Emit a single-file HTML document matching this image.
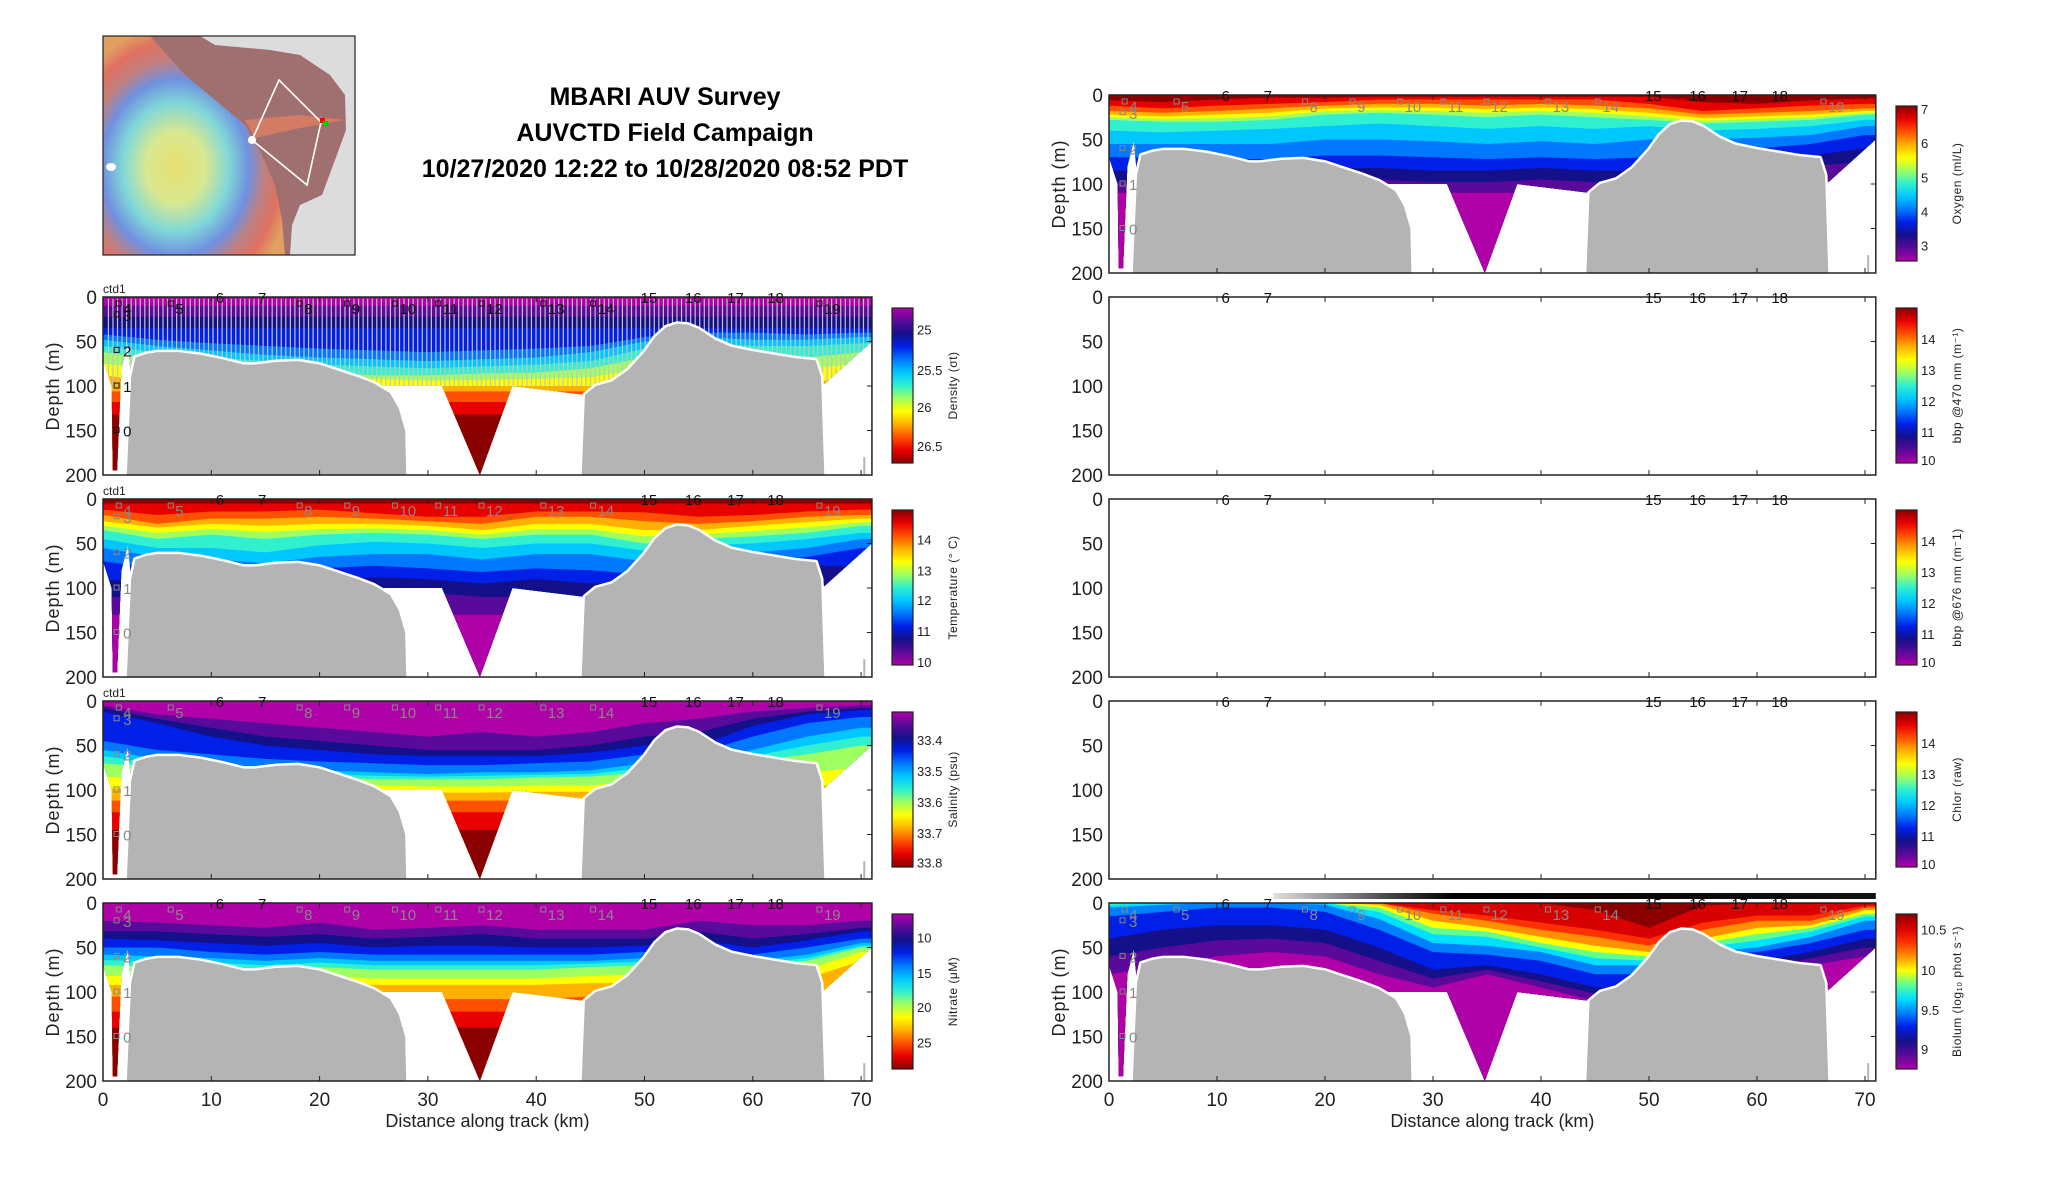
<!DOCTYPE html>
<html><head><meta charset="utf-8"><style>
html,body{margin:0;padding:0;background:#fff}
svg{display:block;font-family:"Liberation Sans","DejaVu Sans",sans-serif}
</style></head><body>
<svg id="fig" width="2052" height="1188" viewBox="0 0 2052 1188" xmlns="http://www.w3.org/2000/svg">
<defs>
<radialGradient id="mapg" cx="0.4" cy="0.6" r="0.65">
<stop offset="0" stop-color="#e8e070"/><stop offset="0.25" stop-color="#d8e890"/><stop offset="0.45" stop-color="#80d8d8"/><stop offset="0.62" stop-color="#7090e0"/><stop offset="0.75" stop-color="#c08080"/><stop offset="0.88" stop-color="#e07060"/><stop offset="1" stop-color="#e0a060"/>
</radialGradient>
<linearGradient id="barg" x1="0" x2="1"><stop offset="0" stop-color="#e0e0e0"/><stop offset="0.2" stop-color="#404040"/><stop offset="0.3" stop-color="#000"/><stop offset="1" stop-color="#111"/></linearGradient>
</defs>
<g>
<rect x="103" y="36" width="252" height="219" fill="#dcdcdc"/>
<path d="M150,36 L200,36 L215,45 L270,50 L300,55 L330,75 L345,95 L346,130 L335,160 L322,195 L300,205 L292,225 L290,255 L240,255 L200,200 L103,160 Z" fill="#a07070"/>
<path d="M103,36 L150,36 L185,75 L215,100 L245,125 L262,155 L275,185 L282,220 L285,255 L103,255 Z" fill="url(#mapg)"/>
<path d="M245,120 L300,115 L345,120 L300,128 L255,138 Z" fill="#e08060" opacity="0.8"/>
<polyline points="252,140 279,80 321,122 307,185 252,140" fill="none" stroke="#fff" stroke-width="1.6"/>
<circle cx="252" cy="140" r="4" fill="#fff"/><ellipse cx="111" cy="167" rx="5" ry="4" fill="#fff"/>
<rect x="320" y="118" width="5" height="5" fill="#f00"/><rect x="323" y="121" width="5" height="5" fill="#0c0"/>
<rect x="103" y="36" width="252" height="219" fill="none" stroke="#222" stroke-width="1.2"/>
</g>
<g font-weight="bold" font-size="25" text-anchor="middle" fill="#000">
<text x="665" y="105">MBARI AUV Survey</text>
<text x="665" y="141">AUVCTD Field Campaign</text>
<text x="665" y="177">10/27/2020 12:22 to 10/28/2020 08:52 PDT</text>
</g>
<g id="panels"></g>
</svg>
<script>
// ---- data ----
const kmSamples=[0,5,10,15,20,25,30,35,40,45,50,55,60,65,70];
const bathy1=[[2.2,200],[2.6,90],[3,68],[4,64],[5,62],[7,62],[9,65],[11,70],[13,76],[14,76],[16,73],[18,72],[20,76],[22,84],[23.5,90],[25,97],[26.5,108],[27.3,125],[27.9,150],[28,200]];
const bathy2=[[44.2,200],[44.5,110],[45.5,100],[47,95],[48.5,82],[50,62],[51,45],[52,34],[53,30],[54,31],[55,36],[56.5,48],[58,56],[60,61],[62,65],[64,69],[65.8,71],[66.3,90],[66.6,200]];
const stationKmA=[10.8,14.7,50.4,54.5,58.4,62.1];
const stationLabA=['6','7','15','16','17','18'];
const stationKmB=[1.5,6.3,18.2,22.6,27,31,35,40.7,45.3,66.2];
const stationLabB=['4','5','8','9','10','11','12','13','14','19'];
const colStationDepth=[20,60,100,150];
const colStationLab=['3','2','1','0'];
const xTicks=[0,10,20,30,40,50,60,70];
const yTicks=[0,50,100,150,200];
const JET=['#b000a8','#5a0a9a','#14108a','#0020e8','#0078ff','#00c8ff','#30f0d0','#a0ff60','#ffff00','#ffb000','#ff5000','#e80000','#8a0000'];
const densIso=[10,22,35,[42,48,52,55,58,60,62,60,58,55,45,40,40,42,40],[48,55,60,65,68,70,72,70,68,62,50,45,48,48,45],[55,62,68,72,76,78,80,78,76,72,58,52,55,55,52],[62,70,76,80,85,88,88,86,85,80,68,60,65,68,62],[75,82,88,90,92,92,94,93,92,90,80,75,78,80,75],[88,95,98,100,100,100,100,100,100,100,95,92,95,95,92],106,118,132];
const tempIso=[5,[12,18,14,14,12,16,20,20,14,14,15,20,18,14,12],[18,28,22,22,20,22,25,28,20,20,25,28,25,20,18],[25,32,28,30,28,28,30,35,28,28,35,35,30,26,22],[30,38,34,37,34,33,35,40,34,34,42,40,36,32,26],[35,45,40,45,40,38,40,45,40,40,50,45,42,38,30],[45,55,55,60,52,48,50,55,50,50,58,52,50,45,38],[55,65,68,72,65,62,62,68,62,62,70,60,60,55,45],[70,78,80,82,78,75,78,82,78,80,85,70,70,65,55],[90,95,95,95,90,88,90,95,90,95,95,85,80,75,75],[110,110,110,110,105,105,105,110,110,110,110,105,105,100,100],130];
const salIso=[[5,15,20,25,30,35,40,35,40,35,25,20,12,8,5],[8,20,30,40,45,50,55,55,55,50,40,35,20,12,8],[12,25,40,50,55,60,62,62,62,58,50,50,28,15,10],[45,55,60,65,68,70,72,72,70,68,60,58,40,25,18],[55,65,70,75,78,80,82,80,80,78,70,65,55,40,30],[62,70,75,78,82,84,85,84,83,82,75,68,62,50,40],[70,75,80,82,85,88,88,88,86,85,80,72,68,60,50],[85,88,92,95,95,95,96,96,95,95,90,85,85,80,75],[98,100,102,102,102,102,103,103,102,102,100,98,98,95,95],112,125,145];
const nitIso=[[20,22,25,28,22,30,28,25,30,30,30,20,25,25,20],[32,32,35,38,35,40,38,35,40,40,40,32,40,35,28],[40,42,45,48,45,50,48,48,50,50,48,42,50,42,32],[50,50,55,58,55,58,58,58,58,58,55,50,58,50,40],[58,60,62,65,62,65,65,65,65,65,62,58,65,58,45],[64,66,67,70,67,70,70,70,70,68,66,63,68,62,48],[70,72,72,75,72,75,75,75,75,72,70,68,72,65,50],[82,82,85,85,82,85,85,85,85,82,80,78,80,75,55],[92,92,95,95,92,92,92,92,92,90,90,88,88,85,65],[105,105,105,105,105,105,108,108,108,105,105,105,105,105,105],122,140];
const oxyIso=[[6,8,5,3,3,2,2,2,2,2,2,8,10,6,4],[12,15,12,10,8,5,5,5,5,5,10,18,15,12,10],[18,20,18,15,12,10,10,12,10,12,15,22,20,18,15],[22,24,22,20,15,14,14,16,14,16,20,26,24,22,18],[25,27,26,24,18,17,18,20,18,20,24,29,27,25,20],[28,30,30,28,22,20,22,25,22,25,28,32,30,28,22],[40,42,40,38,35,32,35,38,35,38,35,40,38,35,28],[55,55,55,55,50,50,52,55,52,55,50,50,48,45,35],[70,70,72,72,68,68,70,72,70,72,70,62,60,55,45],[85,85,85,85,82,82,85,85,82,85,85,75,72,68,60],[98,98,98,98,95,95,98,98,95,98,98,90,85,80,75],110];
const bioIso=[[0,0,0,0,0,0,0,0,0,8,28,3,0,0,0],[0,0,0,0,0,0,8,14,22,30,40,22,14,14,3],[0,0,0,0,0,0,12,20,30,38,48,30,20,20,5],[0,0,0,0,0,2,20,28,38,48,55,40,28,25,8],[0,0,0,0,0,5,28,32,45,55,60,45,35,28,12],[2,0,0,0,0,10,35,38,50,62,65,50,42,32,15],[5,2,0,0,2,18,45,48,55,70,70,55,50,38,20],[15,10,5,5,10,30,55,58,65,80,80,60,55,45,30],[40,30,25,25,30,50,75,70,80,95,95,70,65,55,40],[60,50,42,40,45,65,85,75,88,102,102,80,75,62,50],[80,70,60,55,60,80,95,80,95,110,110,90,85,70,60]];
const REV=JET.slice().reverse();
const panels=[
 {side:'L',row:0,iso:densIso,cols:JET,label:'Density (σt)',ticks:['25','25.5','26','26.5'],tpos:[0.14,0.40,0.64,0.89],ctd:true,dark:true,yo:true},
 {side:'L',row:1,iso:tempIso,cols:REV,label:'Temperature (° C)',ticks:['14','13','12','11','10'],tpos:[0.19,0.39,0.58,0.78,0.98],ctd:true},
 {side:'L',row:2,iso:salIso,cols:JET,label:'Salinity (psu)',ticks:['33.4','33.5','33.6','33.7','33.8'],tpos:[0.18,0.38,0.58,0.78,0.97],ctd:true},
 {side:'L',row:3,iso:nitIso,cols:JET,label:'Nitrate (μM)',ticks:['10','15','20','25'],tpos:[0.15,0.38,0.60,0.83],xlab:true},
 {side:'R',row:-1,iso:oxyIso,cols:REV,label:'Oxygen (ml/L)',ticks:['7','6','5','4','3'],tpos:[0.02,0.24,0.46,0.68,0.90]},
 {side:'R',row:0,iso:null,cols:REV,label:'bbp @470 nm (m⁻¹)',ticks:['14','13','12','11','10'],tpos:[0.2,0.4,0.6,0.8,0.98],noYlab:true},
 {side:'R',row:1,iso:null,cols:REV,label:'bbp @676 nm (m⁻1)',ticks:['14','13','12','11','10'],tpos:[0.2,0.4,0.6,0.8,0.98],noYlab:true},
 {side:'R',row:2,iso:null,cols:REV,label:'Chlor (raw)',ticks:['14','13','12','11','10'],tpos:[0.2,0.4,0.6,0.8,0.98],noYlab:true},
 {side:'R',row:3,iso:bioIso,cols:['#8a0000','#d80000','#ff3000','#ff9000','#ffff00','#60ff90','#00e0ff','#0080ff','#0020e8','#14108a','#5a0a9a','#b000a8'],label:'Biolum (log₁₀ phot s⁻¹)',ticks:['10.5','10','9.5','9'],tpos:[0.1,0.36,0.62,0.87],xlab:true,bar:true}
];
// ---- drawing ----
const NS='http://www.w3.org/2000/svg';
const root=document.getElementById('panels');
function mk(tag,attrs,parent){const e=document.createElementNS(NS,tag);for(const k in attrs)e.setAttribute(k,attrs[k]);(parent||root).appendChild(e);return e;}
function isoVal(v,i){return Array.isArray(v)?v[i]:v;}
let clipN=0;
panels.forEach((p,pi)=>{
 const X0=p.side==='L'?103:1109, KPX=p.side==='L'?10.83:10.8;
 const Y0=297+p.row*202, H=178, DPX=H/200, W=71*KPX;
 const xs=k=>X0+k*KPX, ys=d=>Y0+d*DPX;
 const g=mk('g',{});
 
 
 if(p.iso){
  const id='clip'+(clipN++);
  const cp=mk('clipPath',{id:id},g);
  const poly=[[0,0],[71,0],[71,50],[66.6,98]].concat(bathy2.slice(1,-1).reverse(),[[37.8,100],[34.8,200],[31.3,100],[25.3,100]],bathy1.slice(1,16).reverse(),[[2.3,52],[1.7,80],[1.3,195],[0.9,195],[0.8,100],[0,70]]);
  mk('polygon',{points:poly.map(q=>xs(q[0])+','+ys(q[1])).join(' ')},cp);
  const dg=mk('g',{'clip-path':'url(#'+id+')'},g);
  
  
  mk('rect',{x:X0,y:Y0,width:W,height:H,fill:p.cols[0]},dg);
  p.iso.forEach((lev,li)=>{
   const pts=kmSamples.map((k,i)=>xs(k)+','+ys(isoVal(lev,i)));
   pts.push(xs(71)+','+ys(isoVal(lev,kmSamples.length-1)));
   pts.push(xs(71)+','+ys(200));pts.push(xs(0)+','+ys(200));
   const b=mk('polygon',{points:pts.join(' '),fill:p.cols[li+1]},dg);
   
   
  });
  if(p.yo){for(let k=0.5;k<71;k+=0.42){mk('line',{x1:xs(k),x2:xs(k),y1:ys(2),y2:ys(100),stroke:'#c4c4c4','stroke-width':1.2},dg);}}
  [bathy1,bathy2].forEach((bt)=>{
   const s=mk('polygon',{points:bt.map(q=>xs(q[0])+','+ys(q[1])).join(' '),fill:'#b4b4b4',stroke:'#fff','stroke-width':5,'stroke-linejoin':'round'},g);
   
   
   mk('polygon',{points:bt.map(q=>xs(q[0])+','+ys(q[1])).join(' '),fill:'#b4b4b4'},g);
  });
  mk('rect',{x:xs(70.2),y:ys(180),width:2,height:ys(200)-ys(180),fill:'#b4b4b4'},g);
 }
 const fr=mk('rect',{x:X0,y:Y0,width:W,height:H,fill:'none',stroke:'#222','stroke-width':1.5},g);
 
 
 yTicks.forEach(t=>{
  const tx=mk('text',{x:X0-6,y:ys(t)+7,'font-size':19,'text-anchor':'end',fill:'#222'},g);tx.textContent=t;
  
  
  mk('line',{x1:X0+W,x2:X0+W-5,y1:ys(t),y2:ys(t),stroke:'#222'},g);
 });
 xTicks.forEach(t=>{
  mk('line',{x1:xs(t),x2:xs(t),y1:Y0+H,y2:Y0+H-5,stroke:'#222'},g);
  mk('line',{x1:xs(t),x2:xs(t),y1:Y0,y2:Y0+5,stroke:'#222'},g);
  if(p.xlab){const tx=mk('text',{x:xs(t),y:Y0+H+25,'font-size':19,'text-anchor':'middle',fill:'#222'},g);tx.textContent=t;
   
   }
 });
 if(p.xlab){const xl=mk('text',{x:X0+W/2,y:Y0+H+46,'font-size':18,'text-anchor':'middle',fill:'#222'},g);xl.textContent='Distance along track (km)';
  
  }
 if(!p.noYlab){const yl=mk('text',{x:0,y:0,'font-size':18,'text-anchor':'middle',fill:'#222','letter-spacing':'1',transform:'translate('+(X0-44)+','+(Y0+H/2)+') rotate(-90)'},g);yl.textContent='Depth (m)';
  
  }
 if(p.ctd){const c=mk('text',{x:X0,y:Y0-4,'font-size':12,fill:'#222'},g);c.textContent='ctd1';
  
  }
 stationKmA.forEach((k,i)=>{const t=mk('text',{x:xs(k),y:Y0+6,'font-size':15,'text-anchor':'middle',fill:'#111'},g);t.textContent=stationLabA[i];
  
  });
 if(p.iso){
  const sc=p.dark?'#111':'#888';
  stationKmB.forEach((k,i)=>{mk('rect',{x:xs(k)-3,y:Y0+4,width:5,height:5,fill:'none',stroke:sc},g);
   const t=mk('text',{x:xs(k)+4,y:Y0+17,'font-size':15,fill:sc},g);t.textContent=stationLabB[i];
   
   });
  colStationDepth.forEach((d,i)=>{mk('rect',{x:xs(1.3)-3,y:ys(d)-3,width:5,height:5,fill:'none',stroke:sc},g);
   const t=mk('text',{x:xs(1.3)+6,y:ys(d)+6,'font-size':15,fill:sc},g);t.textContent=colStationLab[i];
   
   });
 }
 if(p.bar){const br=mk('rect',{x:xs(15.2),y:Y0-10,width:xs(71)-xs(15.2),height:6,fill:'url(#barg)'},g);
  
  }
 const CX=p.side==='L'?892:1896, CY=Y0+11, CH=155, CW=21;
 const gid='cbg'+pi;
 const lg=mk('linearGradient',{id:gid,x1:0,x2:0,y1:0,y2:1},g);
 const cc=p.cols;
 cc.forEach((c,i)=>mk('stop',{offset:i/(cc.length-1),'stop-color':c},lg));
 const cb=mk('rect',{x:CX,y:CY,width:CW,height:CH,fill:'url(#'+gid+')',stroke:'#222','stroke-width':1.2},g);
 
 
 p.ticks.forEach((t,i)=>{const tx=mk('text',{x:CX+CW+4,y:CY+p.tpos[i]*CH+5,'font-size':13,fill:'#222'},g);tx.textContent=t;
  
  });
 const cl=mk('text',{x:0,y:0,'font-size':12,'text-anchor':'middle',fill:'#222','letter-spacing':'0.5',transform:'translate('+(CX+CW+44)+','+(CY+CH/2)+') rotate(-90)'},g);cl.textContent=p.label;
 
 
});
</script>
</body></html>
